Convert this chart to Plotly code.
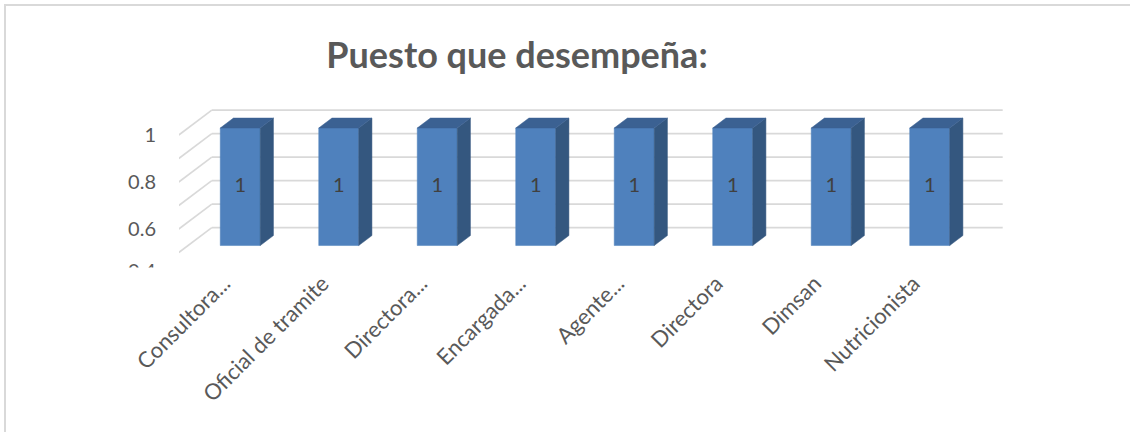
import plotly.graph_objects as go

# ---- data ----
categories = ["Consultora...", "Oficial de tramite", "Directora...", "Encargada...",
              "Agente...", "Directora", "Dimsan", "Nutricionista"]
counts = [1, 1, 1, 1, 1, 1, 1, 1]
y_ticks = [0.6, 0.8, 1.0]
y_tick_labels = ["0.6", "0.8", "1"]
grid_values = [0.5, 0.6, 0.7, 0.8, 0.9, 1.0]
floor_value = 0.5

# ---- pseudo-3D geometry (axis units) ----
W, H = 1130, 432
DX, DY = 0.335, 0.106        # offset from the front plane to the back wall
BAR_W = 0.406                # bar width
BAR_S = 0.28                 # depth of the bar front face
BAR_D = 0.40                 # bar depth (fraction of the full depth)
WALL_X0, WALL_X1 = -0.53, 7.5

FRONT = "#4f81bd"
SIDE = "#34577f"
TOP = "#3b6192"
GRID = "#d9d9d9"
TXT = "#595959"
FONT = "Lato"

fig = go.Figure()


def line(xs, ys, color=GRID, width=1.6):
    fig.add_trace(go.Scatter(x=xs, y=ys, mode="lines", line=dict(color=color, width=width),
                             hoverinfo="skip", showlegend=False))


def poly(xs, ys, color):
    fig.add_trace(go.Scatter(x=xs + [xs[0]], y=ys + [ys[0]], mode="lines", fill="toself",
                             fillcolor=color, line=dict(color=color, width=0.5),
                             hoverinfo="skip", showlegend=False))


# back wall gridlines and side wall diagonals
for v in grid_values:
    line([WALL_X0 + DX, WALL_X1 + DX], [v + DY, v + DY])
    line([WALL_X0, WALL_X0 + DX], [v, v + DY])

# bars: front, side and top faces
for i, val in enumerate(counts):
    x0 = i - BAR_W / 2 + BAR_S * DX
    x1 = i + BAR_W / 2 + BAR_S * DX
    b = floor_value + BAR_S * DY
    t = val + BAR_S * DY
    ox, oy = BAR_D * DX, BAR_D * DY
    poly([x0, x1, x1, x0], [b, b, t, t], FRONT)
    poly([x1, x1 + ox, x1 + ox, x1], [b, b + oy, t + oy, t], SIDE)
    poly([x0, x1, x1 + ox, x0 + ox], [t, t, t + oy, t + oy], TOP)

# value labels on the bar faces
fig.add_trace(go.Scatter(
    x=[i + BAR_S * DX for i in range(len(counts))],
    y=[(floor_value + v) / 2 + BAR_S * DY for v in counts],
    mode="text", text=[str(v) for v in counts],
    textfont=dict(family=FONT, size=20, color="#404040"),
    hoverinfo="skip", showlegend=False))

# plot area in pixels
px_l, px_r, px_t, px_b = 179, 1010, 100, 258

fig.update_layout(
    width=W, height=H,
    margin=dict(l=0, r=0, t=0, b=0, autoexpand=False),
    paper_bgcolor="white", plot_bgcolor="white",
    showlegend=False,
    title=dict(text="<b>Puesto que desempeña:</b>", x=517 / W, xanchor="center",
               y=1 - 55 / H, yanchor="middle",
               font=dict(family=FONT, size=36, color=TXT)),
    xaxis=dict(domain=[px_l / W, px_r / W], range=[-0.528, 7.909], automargin=False,
               tickvals=list(range(len(categories))), ticktext=categories,
               tickangle=-45, tickfont=dict(family=FONT, size=22, color=TXT),
               ticks="outside", ticklen=3, tickcolor="rgba(0,0,0,0)", ticklabelshift=-7,
               showgrid=False, zeroline=False, showline=False, fixedrange=True),
    yaxis=dict(domain=[1 - px_b / H, 1 - px_t / H], range=[0.4766, 1.1489], automargin=False,
               tickvals=y_ticks, ticktext=y_tick_labels,
               tickfont=dict(family=FONT, size=20, color=TXT),
               ticks="outside", ticklen=18, tickcolor="rgba(0,0,0,0)",
               showgrid=False, zeroline=False, showline=False, fixedrange=True),
    shapes=[
        dict(type="line", xref="paper", yref="paper", x0=4 / W, x1=1, y0=1 - 5 / H, y1=1 - 5 / H,
             line=dict(color=GRID, width=2)),
        dict(type="line", xref="paper", yref="paper", x0=5 / W, x1=5 / W, y0=0, y1=1 - 5 / H,
             line=dict(color=GRID, width=2)),
    ],
    annotations=[
        # lowest axis label, cut off by the plot area edge
        dict(text="0.4", xref="paper", yref="paper", x=158 / W, y=1 - 270 / H,
             xanchor="right", yanchor="middle", showarrow=False,
             font=dict(family=FONT, size=20, color=TXT)),
        dict(text="", xref="paper", yref="paper", x=110 / W, y=1 - 267 / H,
             xanchor="left", yanchor="top", showarrow=False, width=60, height=20,
             bgcolor="white"),
    ],
)

fig.write_html("out.html")
